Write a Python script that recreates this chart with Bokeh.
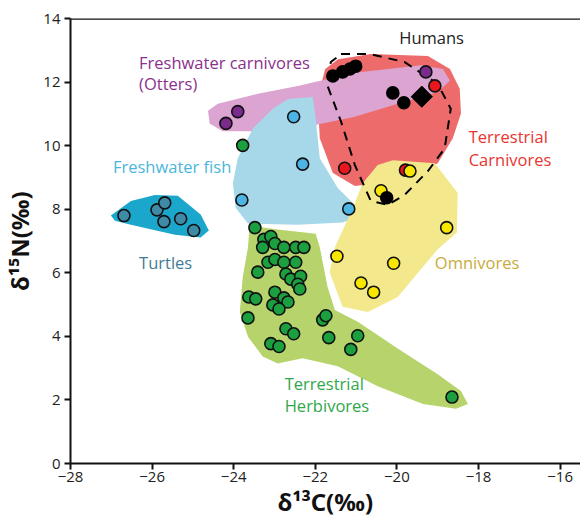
from bokeh.plotting import figure
from bokeh.models import Range1d, Label, Span
from bokeh.embed import file_html
from bokeh.resources import INLINE
import math

# ---------------- data (delta13C, delta15N) ----------------
turtle_x = [-26.69, -25.88, -25.69, -25.71, -25.30, -24.98]
turtle_y = [7.80, 7.98, 8.20, 7.61, 7.70, 7.33]

fish_x = [-22.53, -22.31, -23.80, -21.18]
fish_y = [10.91, 9.42, 8.29, 8.01]

otter_x = [-24.19, -23.90, -19.29]
otter_y = [10.70, 11.07, 12.32]

carn_x = [-19.07, -21.28, -19.79]
carn_y = [11.88, 9.29, 9.23]

omni_x = [-19.68, -20.39, -18.78, -21.47, -20.08, -20.88, -20.57]
omni_y = [9.20, 8.58, 7.42, 6.52, 6.30, 5.68, 5.39]

human_x = [-21.57, -21.33, -21.15, -21.01, -20.10, -19.83, -20.25]
human_y = [12.19, 12.32, 12.41, 12.50, 11.66, 11.35, 8.36]
human_mean_x = [-19.39]
human_mean_y = [11.54]

herb_x = [-23.78, -23.48, -23.26, -23.09, -23.29, -22.99, -22.77, -22.48, -22.28,
          -23.16, -22.99, -22.77, -22.48, -23.41, -22.72, -22.60, -22.36, -22.43,
          -22.38, -23.63, -23.46, -22.99, -22.77, -22.67, -23.04, -22.89, -23.65,
          -22.72, -22.53, -23.09, -22.89, -21.82, -21.74, -21.67, -20.96, -21.13,
          -18.65]
herb_y = [10.01, 7.42, 7.05, 7.14, 6.80, 6.92, 6.80, 6.80, 6.80,
          6.33, 6.42, 6.33, 6.33, 6.02, 5.96, 5.80, 5.89, 5.64,
          5.49, 5.24, 5.18, 5.39, 5.21, 5.08, 4.99, 4.86, 4.58,
          4.24, 4.08, 3.77, 3.68, 4.52, 4.65, 3.96, 4.02, 3.59,
          2.09]

# hull outlines (data units)
turtle_hx = [-27.01, -26.52, -25.93, -25.37, -24.81, -24.61, -24.81, -25.44, -26.52, -26.91]
turtle_hy = [7.80, 8.26, 8.45, 8.42, 7.83, 7.33, 7.11, 7.20, 7.51, 7.64]

fish_hx = [-22.67, -22.06, -21.99, -21.89, -21.45, -21.01, -21.03, -21.33, -22.43,
           -23.65, -23.95, -24.02, -23.90, -23.53, -23.04]
fish_hy = [11.47, 11.53, 10.85, 9.60, 8.67, 8.11, 7.73, 7.58, 7.51,
           7.55, 8.04, 8.82, 9.60, 10.54, 11.16]

otter_hx = [-24.63, -24.39, -23.41, -22.43, -21.03, -19.41, -18.87, -18.70, -19.00,
            -19.98, -21.03, -22.18, -23.41, -24.27, -24.59]
otter_hy = [11.10, 11.32, 11.63, 11.88, 12.29, 12.53, 12.41, 12.04, 11.69,
            11.32, 10.91, 10.60, 10.45, 10.45, 10.70]

carn_hx = [-21.76, -21.44, -20.64, -19.24, -18.70, -18.46, -18.43, -18.63, -19.00,
           -19.49, -20.47, -21.03, -21.57, -21.89, -21.94]
carn_hy = [12.41, 12.72, 12.88, 12.82, 12.41, 11.79, 11.01, 10.23, 9.45,
           9.14, 8.82, 8.73, 9.14, 10.23, 11.47]

omni_hx = [-20.47, -20.10, -19.07, -18.51, -18.53, -19.00, -19.98, -20.71, -21.33,
           -21.65, -21.52, -21.08, -20.84]
omni_hy = [9.39, 9.54, 9.45, 8.51, 7.27, 6.74, 5.24, 4.77, 4.93,
           6.02, 6.80, 8.04, 8.82]

herb_hx = [-23.61, -22.92, -21.99, -21.89, -21.70, -21.52, -20.96, -19.98, -19.00,
           -18.43, -18.26, -18.55, -19.36, -20.47, -21.45, -22.31, -22.92, -23.29,
           -23.65, -23.85, -23.78, -23.65]
herb_hy = [7.48, 7.36, 7.23, 6.80, 5.55, 4.83, 4.46, 3.62, 2.81,
           2.28, 1.87, 1.72, 1.87, 2.43, 3.06, 3.31, 3.15, 3.37,
           3.99, 4.77, 5.86, 6.80]

human_hx = [-21.37, -20.66, -19.81, -19.00, -18.68, -18.83, -19.24, -19.81, -20.22,
            -20.64, -21.03, -21.37, -21.70, -21.62, -21.37]
human_hy = [12.88, 12.88, 12.63, 11.94, 11.16, 9.91, 9.20, 8.45, 8.14,
            8.26, 9.39, 10.76, 11.88, 12.63, 12.88]

x_ticks = [-28, -26, -24, -22, -20, -18, -16]
y_ticks = [0, 2, 4, 6, 8, 10, 12, 14]

FONT = "Open Sans"

p = figure(width=580, height=520, output_backend="svg", toolbar_location=None,
           x_range=Range1d(-28, -15.5), y_range=Range1d(0, 14),
           min_border_left=70, min_border_right=0, min_border_top=18,
           min_border_bottom=50)
p.background_fill_color = "white"
p.border_fill_color = "white"
p.outline_line_color = None
p.xgrid.visible = False
p.ygrid.visible = False

# hulls
p.patch(carn_hx, carn_hy, fill_color="#ee6b6b", line_color=None)
p.patch(otter_hx, otter_hy, fill_color="#dba4d1", line_color=None)
p.patch(fish_hx, fish_hy, fill_color="#a7d8ea", line_color=None)
p.patch(omni_hx, omni_hy, fill_color="#f3e88b", line_color=None)
p.patch(herb_hx, herb_hy, fill_color="#b7d46c", line_color=None)
p.patch(turtle_hx, turtle_hy, fill_color="#1ba6cb", line_color=None)

p.line(human_hx, human_hy, line_color="black", line_width=2, line_dash="9 7")

S = 12
LW = 1.6
p.scatter(herb_x, herb_y, size=S, fill_color="#1c9f3f", line_color="#111111", line_width=LW)
p.scatter(turtle_x, turtle_y, size=S, fill_color="#3f8aa6", line_color="#111111", line_width=LW)
p.scatter(fish_x, fish_y, size=S, fill_color="#4db4e6", line_color="#111111", line_width=LW)
p.scatter(otter_x, otter_y, size=S, fill_color="#7b2a8e", line_color="#111111", line_width=LW)
p.scatter(carn_x, carn_y, size=S, fill_color="#e8161d", line_color="#111111", line_width=LW)
p.scatter(omni_x, omni_y, size=S, fill_color="#f8e600", line_color="#111111", line_width=LW)
p.scatter(human_x, human_y, size=S, fill_color="black", line_color="black", line_width=LW)
p.scatter(human_mean_x, human_mean_y, marker="square", size=15, angle=math.pi / 4,
          fill_color="black", line_color="black")

# axes
for ax in (p.xaxis[0], p.yaxis[0]):
    ax.axis_line_width = 2
    ax.axis_line_color = "#111111"
    ax.major_tick_line_width = 2
    ax.major_tick_line_color = "#111111"
    ax.major_tick_out = 6
    ax.major_tick_in = 0
    ax.minor_tick_line_color = None
    ax.major_label_text_font = FONT
    ax.major_label_text_font_size = "15px"
    ax.major_label_text_color = "#222222"
    ax.axis_label_text_font = "Noto Sans"
    ax.axis_label_text_font_style = "bold"
    ax.axis_label_text_font_size = "24px"
    ax.axis_label_text_color = "#111111"
p.xaxis.ticker = x_ticks
p.yaxis.ticker = y_ticks
p.xaxis.major_label_standoff = 2
p.yaxis.major_label_standoff = 4
p.xaxis.axis_label = "δ¹³C(‰)"
p.xaxis.axis_label_standoff = 0
p.yaxis.axis_label = "δ¹⁵N(‰)"
p.yaxis.axis_label_standoff = 4

p.add_layout(Span(location=14, dimension="width", line_color="#111111", line_width=2.5))

labels = [
    ("Humans", -19.15, 13.41, "#222222", "center"),
    ("Freshwater carnivores", -26.32, 12.63, "#8b2f8e", "left"),
    ("(Otters)", -26.32, 11.94, "#8b2f8e", "left"),
    ("Freshwater fish", -26.96, 9.35, "#4ab6da", "left"),
    ("Turtles", -26.32, 6.33, "#3f7d96", "left"),
    ("Terrestrial", -18.24, 10.29, "#e8352f", "left"),
    ("Carnivores", -18.24, 9.57, "#e8352f", "left"),
    ("Omnivores", -19.07, 6.33, "#c9aa3c", "left"),
    ("Terrestrial", -22.75, 2.53, "#2ea84a", "left"),
    ("Herbivores", -22.75, 1.81, "#2ea84a", "left"),
]
for txt, lx, ly, col, al in labels:
    p.add_layout(Label(x=lx, y=ly, text=txt, text_color=col, text_font=FONT,
                       text_font_size="16.5px", text_align=al, text_baseline="middle"))

open("out.html", "w").write(file_html(p, INLINE))
